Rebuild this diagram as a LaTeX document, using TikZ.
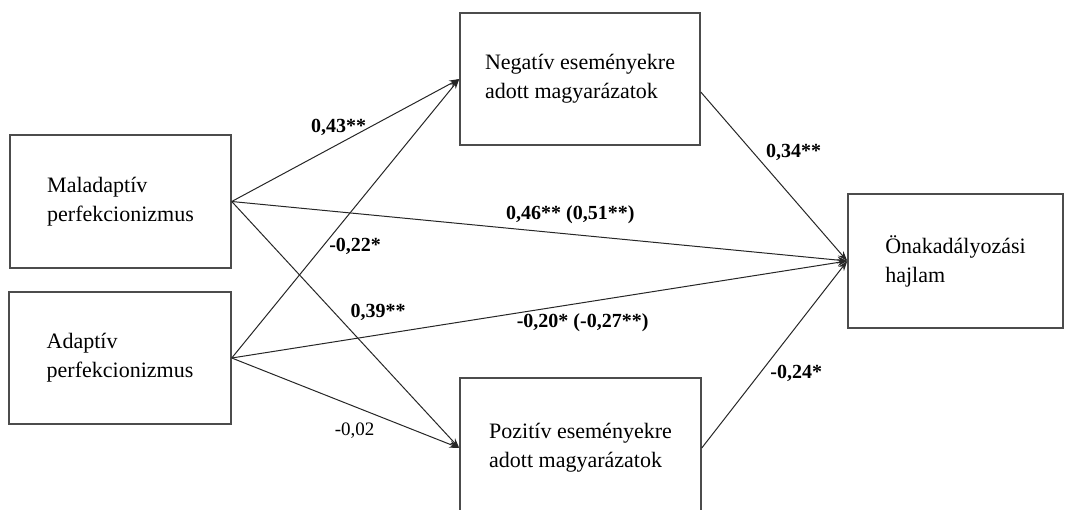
\documentclass[tikz,border=0pt]{standalone}
\usepackage{fontspec}
\setmainfont{Liberation Serif}
\usetikzlibrary{arrows.meta,positioning}

\begin{document}
\begin{tikzpicture}[x=0.5pt,y=-0.5pt,>={Stealth[length=5pt,width=3.5pt]},
	box/.style={draw=black!70,line width=0.75pt,align=left,font=\fontsize{11}{14.5}\selectfont},
	coef/.style={font=\bfseries\fontsize{10}{12}\selectfont,inner sep=2pt},
	path/.style={->,line width=0.5pt,draw=black!85}]
\useasboundingbox (0,0) rectangle (1075,509);

% boxes
\node[box,minimum width=110.5pt,minimum height=66.5pt](Mal) at (120.5,201.5){Maladaptív\\perfekcionizmus};
\node[box,minimum width=111pt,minimum height=66pt](Adapt) at (120,358){Adaptív\\perfekcionizmus};
\node[box,minimum width=120pt,minimum height=66pt](Neg) at (580,79){Negatív eseményekre\\adott magyarázatok};
\node[box,minimum width=120.5pt,minimum height=70pt](Poz) at (580.5,448){Pozitív eseményekre\\adott magyarázatok};
\node[box,minimum width=107.5pt,minimum height=67pt](Onak) at (955.5,261){Önakadályozási\\hajlam};

% paths
\draw[path](Mal.east)-- node[coef,pos=.47,above=2pt]{0,43**} (Neg.west);
\draw[path](Mal.east)-- node[coef,pos=.45,right=6pt]{0,39**} (Poz.west);
\draw[path](Mal.east)-- node[coef,pos=.55,above=3pt]{0,46** (0,51**)} (Onak.west);
\draw[path](Adapt.east)-- node[coef,pos=.40,right=1pt]{-0,22*} (Neg.west);
\draw[path](Adapt.east)-- node[coef,pos=.57,below=3pt]{-0,20* (-0,27**)} (Onak.west);
\draw[path](Adapt.east)-- node[coef,font=\fontsize{9.5}{11}\selectfont,pos=.54,below=6pt]{-0,02} (Poz.west);
\draw[path]([yshift=-6.5pt]Neg.east)-- node[coef,pos=.36,right=4pt]{0,34**} (Onak.west);
\draw[path](Poz.east)-- node[coef,pos=.40,right=3pt]{-0,24*} (Onak.west);
\end{tikzpicture}
\end{document}
